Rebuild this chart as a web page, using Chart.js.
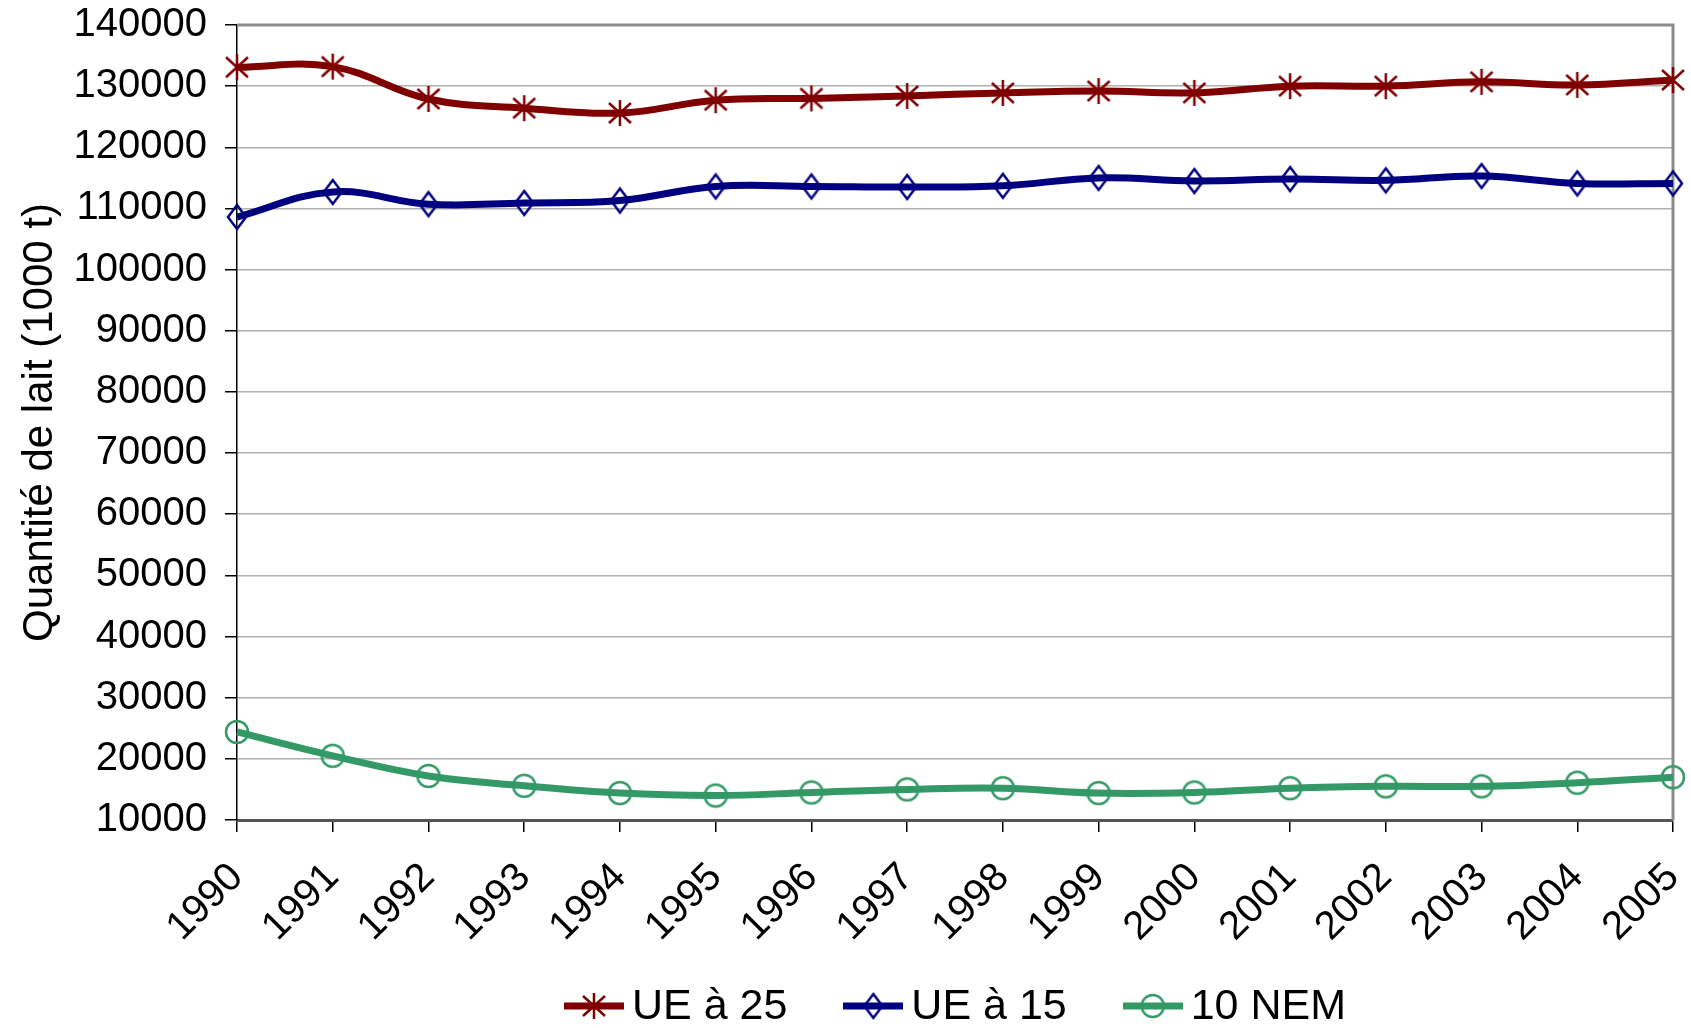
<!DOCTYPE html>
<html>
<head>
<meta charset="utf-8">
<title>Quantité de lait</title>
<script src="https://cdn.jsdelivr.net/npm/chart.js@4.4.1/dist/chart.umd.min.js"></script>
<style>
  html, body { margin: 0; padding: 0; background: #ffffff; }
  #wrap { width: 1691px; height: 1028px; }
</style>
</head>
<body>
<div id="wrap"><canvas id="laitChart" width="1691" height="1028"></canvas></div>
<script>
// données (1000 t)
var annees = ['1990', '1991', '1992', '1993', '1994', '1995', '1996', '1997',
              '1998', '1999', '2000', '2001', '2002', '2003', '2004', '2005'];
var ue25 = [133100, 133200, 127900, 126400, 125600, 127700, 128000, 128400,
            128900, 129200, 128900, 130000, 130000, 130700, 130200, 131000];
var ue15 = [108600, 112700, 110700, 110900, 111300, 113600, 113600, 113500,
            113700, 115000, 114500, 114800, 114600, 115300, 114100, 114100];
var nem10 = [24400, 20500, 17200, 15600, 14400, 14000, 14500, 15000,
             15200, 14400, 14500, 15200, 15500, 15500, 16100, 17000];
var yTicks = [10000, 20000, 30000, 40000, 50000, 60000, 70000,
              80000, 90000, 100000, 110000, 120000, 130000, 140000];

var FONT = '"Liberation Sans", Arial, sans-serif';

// petit dessin de marqueur (avec trait pour la légende)
function marker(kind, color, lineLen) {
    var w = lineLen || 32, h = 32;
    var c = document.createElement('canvas');
    c.width = w; c.height = h;
    var g = c.getContext('2d');
    var cx = w / 2, cy = h / 2;
    if (lineLen) {
        g.strokeStyle = color;
        g.lineWidth = 7;
        g.beginPath(); g.moveTo(0, cy); g.lineTo(w, cy); g.stroke();
    }
    g.strokeStyle = color;
    g.lineWidth = 2.5;
    g.beginPath();
    if (kind === 'star') {
        g.moveTo(cx, cy - 13); g.lineTo(cx, cy + 13);
        g.moveTo(cx - 11, cy - 10); g.lineTo(cx + 11, cy + 10);
        g.moveTo(cx - 11, cy + 10); g.lineTo(cx + 11, cy - 10);
    } else if (kind === 'diamond') {
        g.moveTo(cx, cy - 12); g.lineTo(cx + 9, cy);
        g.lineTo(cx, cy + 12); g.lineTo(cx - 9, cy); g.closePath();
    } else {
        g.arc(cx, cy, 11, 0, Math.PI * 2);
    }
    g.stroke();
    return c;
}

var series = [
    { label: 'UE à 25', data: ue25, color: '#800000', kind: 'star' },
    { label: 'UE à 15', data: ue15, color: '#000080', kind: 'diamond' },
    { label: '10 NEM', data: nem10, color: '#339966', kind: 'circle' }
];

var cadre = {
    id: 'cadre',
    beforeDatasetsDraw: function (chart) {
        var a = chart.chartArea, ctx = chart.ctx;
        ctx.save();
        ctx.strokeStyle = '#8c8c8c';
        ctx.lineWidth = 3;
        ctx.beginPath();
        ctx.moveTo(a.left, a.top);
        ctx.lineTo(a.right, a.top);
        ctx.lineTo(a.right, a.bottom);
        ctx.stroke();
        ctx.restore();
    }
};

var legende = {
    id: 'legende',
    afterDraw: function (chart) {
        var ctx = chart.ctx, a = chart.chartArea;
        ctx.save();
        ctx.font = '43px ' + FONT;
        var items = series.map(function (s) {
            return { s: s, img: marker(s.kind, s.color, 60), tw: ctx.measureText(s.label).width };
        });
        var gapText = 8, gapItem = 56;
        var total = 0;
        items.forEach(function (it, i) {
            total += 60 + gapText + it.tw + (i ? gapItem : 0);
        });
        var x = (a.left + a.right) / 2 - total / 2;
        var y = chart.height - 22;
        ctx.fillStyle = '#000000';
        ctx.textBaseline = 'middle';
        items.forEach(function (it) {
            ctx.drawImage(it.img, x, y - it.img.height / 2);
            x += 60 + gapText;
            ctx.fillText(it.s.label, x, y + 1);
            x += it.tw + gapItem;
        });
        ctx.restore();
    }
};

document.addEventListener('DOMContentLoaded', function () {
    var ctx = document.getElementById('laitChart').getContext('2d');
    var laitChart = new Chart(ctx, {
        type: 'line',
        data: {
            labels: annees,
            datasets: series.map(function (s) {
                return {
                    label: s.label,
                    data: s.data,
                    borderColor: s.color,
                    backgroundColor: s.color,
                    borderWidth: 7,
                    tension: 0.4,
                    pointStyle: marker(s.kind, s.color, 0),
                    pointRadius: 11,
                    clip: false,
                    fill: false
                };
            })
        },
        options: {
            responsive: false,
            animation: false,
            events: [],
            layout: { padding: { left: 0, right: 18, top: 25, bottom: 70 } },
            plugins: {
                legend: { display: false },
                tooltip: { enabled: false }
            },
            scales: {
                x: {
                    grid: {
                        drawOnChartArea: false,
                        drawTicks: true,
                        tickLength: 12,
                        tickColor: '#000000',
                        lineWidth: 1.5
                    },
                    border: { color: '#555555', width: 3 },
                    ticks: {
                        color: '#000000',
                        font: { family: FONT, size: 40 },
                        maxRotation: 45,
                        minRotation: 45,
                        padding: 22,
                        autoSkip: false
                    },
                    afterFit: function (scale) {
                        scale.height = 1028 - 70 - 820;
                        scale.paddingLeft = 0;
                        scale.paddingRight = 0;
                    }
                },
                y: {
                    min: 10000,
                    max: 140000,
                    afterBuildTicks: function (scale) {
                        scale.ticks = yTicks.map(function (v) { return { value: v }; });
                    },
                    grid: {
                        color: '#b0b0b0',
                        lineWidth: 1.5,
                        tickLength: 12,
                        tickColor: '#000000'
                    },
                    border: { color: '#000000', width: 1.5 },
                    ticks: {
                        color: '#000000',
                        font: { family: FONT, size: 40 },
                        padding: 18,
                        callback: function (v) { return String(v); }
                    },
                    title: {
                        display: true,
                        text: 'Quantité de lait (1000 t)',
                        color: '#000000',
                        font: { family: FONT, size: 42 },
                        padding: { top: 15, bottom: 0 }
                    },
                    afterFit: function (scale) {
                        scale.width = 237;
                        scale.paddingTop = 0;
                        scale.paddingBottom = 0;
                    }
                }
            }
        },
        plugins: [cadre, legende]
    });
});
</script>
</body>
</html>
